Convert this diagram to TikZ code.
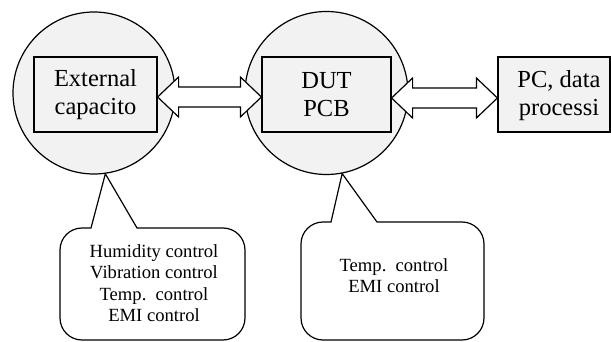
\documentclass[tikz,border=0pt]{standalone}
\usepackage{fontspec}
\setmainfont{Liberation Serif}
\usetikzlibrary{calc}
\definecolor{lgray}{HTML}{F2F2F2}
\tikzset{
  circ/.style={circle, draw, fill=lgray, line width=1.2pt, inner sep=0pt},
  bigbox/.style={rectangle, draw, fill=lgray, line width=1.2pt, inner sep=0pt, minimum height=75pt, align=center,
     font=\fontsize{24.5}{28}\selectfont},
  boxtext/.style={align=center, inner sep=0pt, font=\fontsize{24.5}{28}\selectfont},
  calltext/.style={align=center, inner sep=0pt, font=\fontsize{18.6}{21.4}\selectfont},
  barrow/.style={draw, fill=white, line width=1.2pt, line join=miter},
  callbox/.style={draw, fill=white, line width=1.2pt, line join=miter},
}
\newcommand\mydblarrow[3]{%
  \draw[barrow] let \p1=($(#1.east)+(0,#3)$), \p2=($(#2.west)+(0,#3)$) in
  (\p1) -- (\x1+21pt,\y1+20pt) -- (\x1+21pt,\y1+10pt) -- (\x2-21pt,\y1+10pt) -- (\x2-21pt,\y1+20pt)
  -- (\x2,\y1) -- (\x2-21pt,\y1-20pt) -- (\x2-21pt,\y1-10pt) -- (\x1+21pt,\y1-10pt) -- (\x1+21pt,\y1-20pt) -- cycle;}
\begin{document}
\begin{tikzpicture}[x=1pt, y=-1pt]
\useasboundingbox (0,0) rectangle (611,342);
% circles
\node[circ, minimum size=162pt] (c1) at (94,93) {};
\node[circ, minimum size=163pt] (c2) at (326.5,93) {};
% boxes
\node[bigbox, minimum width=123pt] (b1) at (95.5,94.5) {External\\capacito};
\node[bigbox, minimum width=129pt] (b2) at (326.5,94.5) {DUT\\PCB};
\node[bigbox, minimum width=112pt] (b3) at (554,94.5) {};
\node[boxtext] (t3) at (559,96) {PC, data\\processi};
% arrows
\mydblarrow{b1}{b2}{2.5}
\mydblarrow{b2}{b3}{3.5}
% callouts
\coordinate (p1) at (c1.-82);
\coordinate (p2) at (c2.-79);
\draw[callbox] (91,228) -- (p1) -- (137,228) -- (223,228)
  arc[start angle=-90, end angle=0, radius=22] -- (245,318)
  arc[start angle=0, end angle=90, radius=22] -- (82,340)
  arc[start angle=90, end angle=180, radius=22] -- (60,250)
  arc[start angle=180, end angle=270, radius=22] -- cycle;
\draw[callbox] (331,222) -- (p2) -- (377,222) -- (462,222)
  arc[start angle=-90, end angle=0, radius=22] -- (484,318)
  arc[start angle=0, end angle=90, radius=22] -- (323,340)
  arc[start angle=90, end angle=180, radius=22] -- (301,244)
  arc[start angle=180, end angle=270, radius=22] -- cycle;
\node[calltext] (n1) at (154,283) {Humidity control\\Vibration control\\Temp.\ \ control\\EMI control};
\node[calltext] (n2) at (394,275.5) {Temp.\ \ control\\EMI control};
\end{tikzpicture}
\end{document}
